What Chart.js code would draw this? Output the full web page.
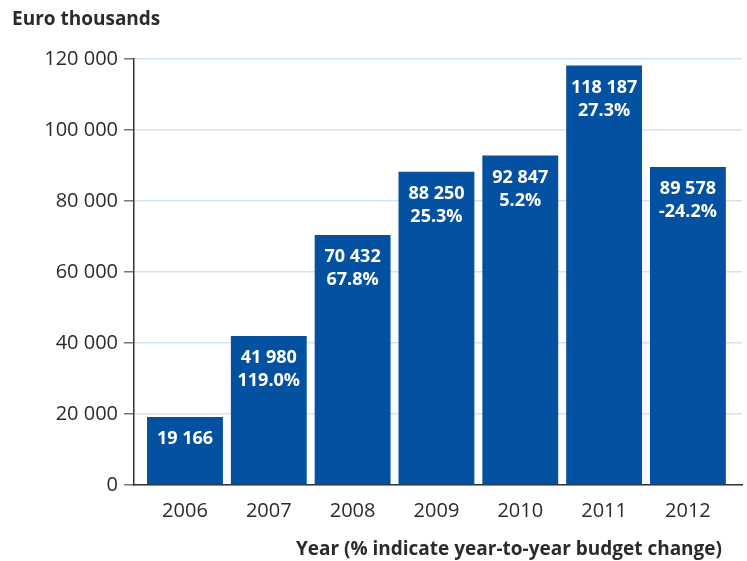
<!DOCTYPE html>
<html>
<head>
<meta charset="utf-8">
<script src="https://cdn.jsdelivr.net/npm/chart.js@4/dist/chart.umd.min.js"></script>
<style>
  html, body { margin: 0; padding: 0; background: #fff; }
  #wrap { width: 747px; height: 561px; position: relative; }
</style>
</head>
<body>
<div id="wrap"><canvas id="budgetChart" width="747" height="561"></canvas></div>
<script>
const years = ["2006", "2007", "2008", "2009", "2010", "2011", "2012"];
const budget = [19166, 41980, 70432, 88250, 92847, 118187, 89578];
const changeLabels = ["", "119.0%", "67.8%", "25.3%", "5.2%", "27.3%", "-24.2%"];
const yTicks = [0, 20000, 40000, 60000, 80000, 100000, 120000];

const BAR_BLUE = "#0351a0";
const GRID_BLUE = "#cfe4f4";
const TEXT_DARK = "#2b2b2b";
const FONT = "'Open Sans', 'Noto Sans', sans-serif";

const fmt = (v) => String(v).replace(/\B(?=(\d{3})+(?!\d))/g, " ");

// value + change labels inside the top of each bar
const barLabels = {
  id: "barLabels",
  afterDatasetsDraw(chart) {
    const ctx = chart.ctx;
    const meta = chart.getDatasetMeta(0);
    ctx.save();
    ctx.fillStyle = "#ffffff";
    ctx.font = `bold 18px ${FONT}`;
    ctx.textAlign = "center";
    ctx.textBaseline = "middle";
    meta.data.forEach((bar, i) => {
      ctx.fillText(fmt(budget[i]), bar.x, bar.y + 22);
      if (changeLabels[i]) {
        ctx.fillText(changeLabels[i], bar.x, bar.y + 45);
      }
    });
    ctx.restore();
  }
};

// axis titles
const axisTitles = {
  id: "axisTitles",
  afterDraw(chart) {
    const ctx = chart.ctx;
    ctx.save();
    ctx.fillStyle = TEXT_DARK;
    ctx.font = `bold 19px ${FONT}`;
    ctx.textBaseline = "middle";
    ctx.textAlign = "left";
    ctx.fillText("Euro thousands", 12, 20);
    ctx.textAlign = "right";
    ctx.fillText("Year (% indicate year-to-year budget change)", 722, 550);
    ctx.restore();
  }
};

new Chart(document.getElementById("budgetChart"), {
  type: "bar",
  data: {
    labels: years,
    datasets: [{
      data: budget,
      backgroundColor: BAR_BLUE,
      borderWidth: 0,
      categoryPercentage: 1,
      barPercentage: 0.905
    }]
  },
  options: {
    responsive: false,
    animation: false,
    layout: { padding: { left: 0, right: 5, top: 59, bottom: 0 } },
    plugins: { legend: { display: false }, tooltip: { enabled: false } },
    scales: {
      x: {
        offset: false,
        afterFit(scale) { scale.height = 76; },
        // categories sit a little inside the axis frame, as in the original
        afterBuildTicks(scale) {
          scale._startValue = -0.608;
          scale._valueRange = 7.253;
        },
        grid: { display: false, drawTicks: false },
        border: { color: "#333", width: 1.5 },
        ticks: { color: TEXT_DARK, font: { family: FONT, size: 20 }, padding: 14 }
      },
      y: {
        min: 0,
        max: 120000,
        afterFit(scale) { scale.width = 134; },
        afterBuildTicks(scale) { scale.ticks = yTicks.map((v) => ({ value: v })); },
        grid: { color: GRID_BLUE, lineWidth: 1.5, tickLength: 10, tickColor: "#777", tickWidth: 1.5 },
        border: { color: "#333", width: 1.5 },
        ticks: {
          color: TEXT_DARK,
          font: { family: FONT, size: 20 },
          padding: 6,
          callback: (v) => fmt(v)
        }
      }
    }
  },
  plugins: [barLabels, axisTitles]
});
</script>
</body>
</html>
